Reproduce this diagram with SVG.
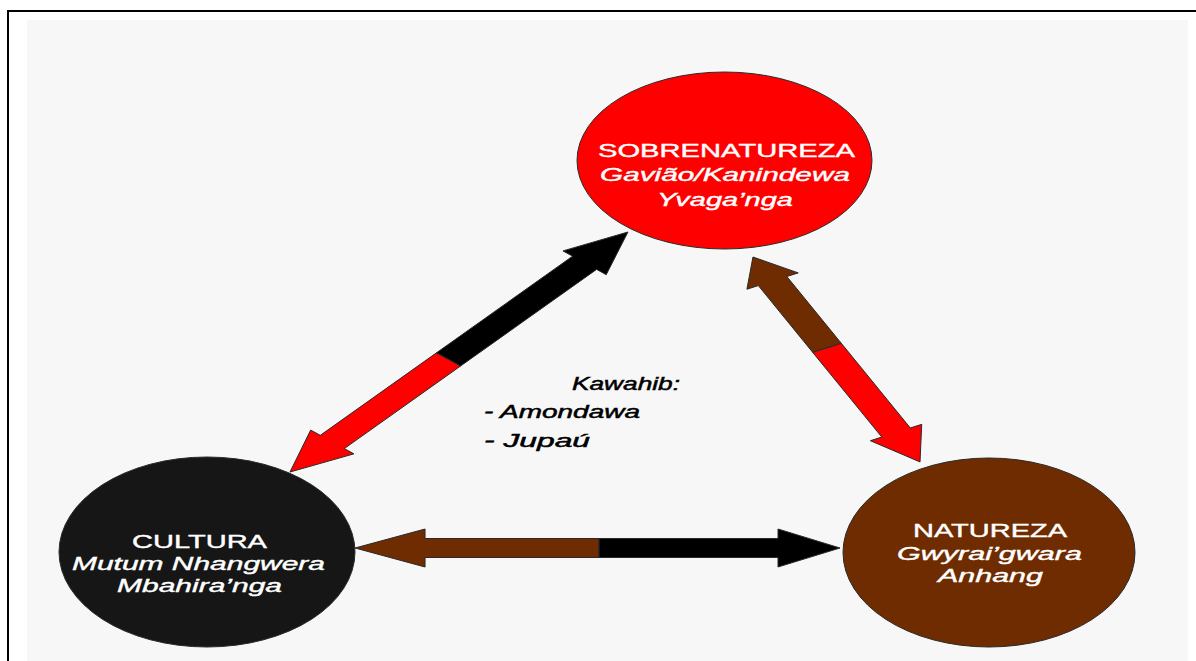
<svg xmlns="http://www.w3.org/2000/svg" width="1196" height="661" viewBox="0 0 1196 661">
  <style>
    .node-label { font-family: "Liberation Sans", Arial, sans-serif; font-size: 19px; fill: #ffffff; stroke: #ffffff; stroke-width: 0.4; text-anchor: middle; }
    .it { font-style: italic; }
    .center-label { font-family: "Liberation Sans", Arial, sans-serif; font-size: 19px; font-style: italic; fill: #000000; stroke: #000000; stroke-width: 0.5; }
    .outline { stroke: #2a2a2a; stroke-width: 1; vector-effect: non-scaling-stroke; stroke-linejoin: miter; }
    .red { fill: #ff0000; }
    .black { fill: #000000; }
    .brown { fill: #6e2c00; }
  </style>
  <rect x="0" y="0" width="1196" height="661" fill="#ffffff"/>
  <rect x="27" y="20" width="1161" height="641" fill="#f7f7f7"/>
  <line x1="7" y1="11" x2="1196" y2="11" stroke="#000" stroke-width="2"/>
  <line x1="8" y1="10" x2="8" y2="661" stroke="#000" stroke-width="2"/>

  <g id="connectors" transform="scale(1.6 1)">
    <!-- CULTURA <-> SOBRENATUREZA -->
    <g transform="translate(181.25 472) rotate(-48.65)">
      <polygon class="red outline" points="0,0 40,-18 40,-10 150,-10 150,10 40,10 40,18"/>
      <polygon class="black outline" points="150,-10 278.7,-10 278.7,-18 319.7,0 278.7,18 278.7,10 150,10"/>
    </g>
    <!-- SOBRENATUREZA <-> NATUREZA -->
    <g transform="translate(470.6 257) rotate(63)">
      <polygon class="brown outline" points="0,0 27,-18 27,-10 102,-10 102,10 27,10 27,18"/>
      <polygon class="red outline" points="102,-10 197,-10 197,-18 230,0 197,18 197,10 102,10"/>
    </g>
    <!-- CULTURA <-> NATUREZA -->
    <g transform="translate(221.9 548)">
      <polygon class="brown outline" points="0,0 43.75,-19 43.75,-9.5 152.5,-9.5 152.5,9.5 43.75,9.5 43.75,19"/>
      <polygon class="black outline" points="152.5,-9.5 264.35,-9.5 264.35,-19 303.1,0 264.35,19 264.35,9.5 152.5,9.5"/>
    </g>
  </g>

  <g id="node-sobrenatureza">
    <ellipse cx="724.5" cy="160.5" rx="147.5" ry="88.5" fill="#ff0000" stroke="#2a2a2a" stroke-width="1"/>
    <text class="node-label" x="726.5" y="157" textLength="257" lengthAdjust="spacingAndGlyphs">SOBRENATUREZA</text>
    <text class="node-label it" x="725" y="181" textLength="250" lengthAdjust="spacingAndGlyphs">Gavião/Kanindewa</text>
    <text class="node-label it" x="725" y="206" textLength="136" lengthAdjust="spacingAndGlyphs">Yvaga’nga</text>
  </g>

  <g id="node-cultura">
    <ellipse cx="207" cy="552" rx="148" ry="95" fill="#161616" stroke="#2a2a2a" stroke-width="1"/>
    <text class="node-label" x="199.5" y="548" textLength="135" lengthAdjust="spacingAndGlyphs">CULTURA</text>
    <text class="node-label it" x="198.5" y="570" textLength="253" lengthAdjust="spacingAndGlyphs">Mutum Nhangwera</text>
    <text class="node-label it" x="199.5" y="592" textLength="165" lengthAdjust="spacingAndGlyphs">Mbahira’nga</text>
  </g>

  <g id="node-natureza">
    <ellipse cx="989" cy="552.5" rx="146" ry="94.5" fill="#6e2c00" stroke="#2a2a2a" stroke-width="1"/>
    <text class="node-label" x="990" y="537" textLength="154" lengthAdjust="spacingAndGlyphs">NATUREZA</text>
    <text class="node-label it" x="989.5" y="560" textLength="185" lengthAdjust="spacingAndGlyphs">Gwyrai’gwara</text>
    <text class="node-label it" x="990.5" y="582" textLength="105" lengthAdjust="spacingAndGlyphs">Anhang</text>
  </g>

  <g id="label-kawahib">
    <text class="center-label" x="572" y="390" textLength="108" lengthAdjust="spacingAndGlyphs">Kawahib:</text>
    <text class="center-label" x="484" y="418" textLength="156" lengthAdjust="spacingAndGlyphs">- Amondawa</text>
    <text class="center-label" x="484" y="447" textLength="106" lengthAdjust="spacingAndGlyphs">- Jupaú</text>
  </g>
</svg>
